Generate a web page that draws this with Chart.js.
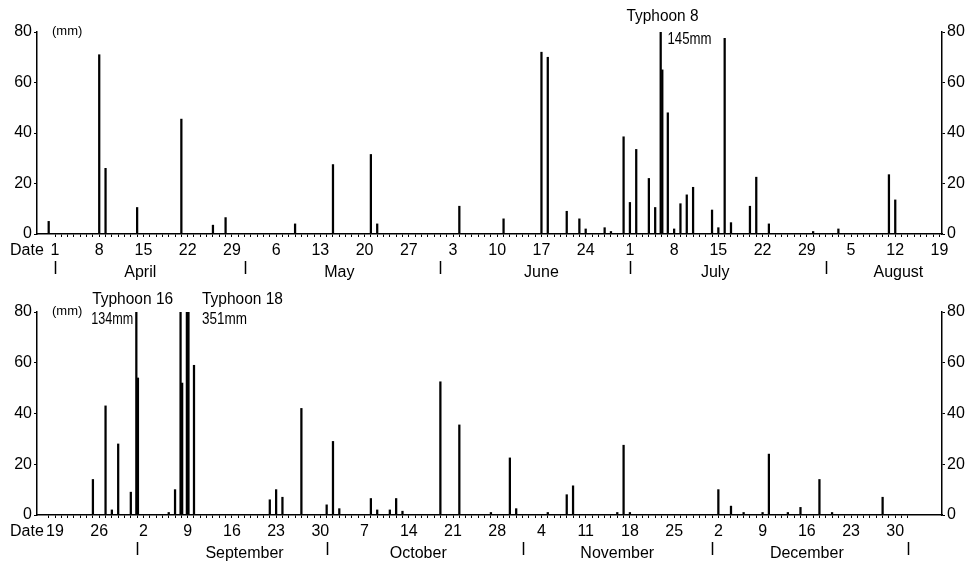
<!DOCTYPE html>
<html lang="en">
<head>
<meta charset="UTF-8">
<title>Daily rainfall</title>
<script src="https://cdn.jsdelivr.net/npm/chart.js@4"></script>
<style>
  html, body { margin: 0; padding: 0; background: #fff; }
  canvas { display: block; }
</style>
</head>
<body>
<canvas id="topPanel" width="970" height="282"></canvas>
<canvas id="bottomPanel" width="970" height="281"></canvas>
<script>
// ---- top panel, day 0 = April 1 ----
const topDays = [-1, 7, 8, 13, 20, 25, 27, 38, 44, 50, 51, 64, 71, 77, 78, 81, 83, 84, 87, 88,
  90, 91, 92, 94, 95, 96, 97, 98, 99, 100, 101, 104, 105, 106, 107, 110, 111, 113, 120, 124, 132, 133];
const topRain = [5, 71, 26, 10.5, 45.5, 3.5, 6.5, 4, 27.5, 31.5, 4, 11, 6, 72, 70, 9, 6, 2, 2.5, 1,
  38.5, 12.5, 33.5, 22, 10.5, 145, 48, 2, 12, 15.5, 18.5, 9.5, 2.5, 77.5, 4.5, 11, 22.5, 4, 1, 2, 23.5, 13.5];
// second reading drawn beside the first on the same day
const topDays2 = [96];
const topRain2 = [65];
const topTickLabels = ["1", "8", "15", "22", "29", "6", "13", "20", "27", "3", "10", "17", "24",
  "1", "8", "15", "22", "29", "5", "12", "19"];
const topMonths = ["April", "May", "June", "July", "August"];
const topMonthLabelDays = [13.5, 45, 77, 104.5, 133.5];
const topMonthStarts = [0, 30, 61, 91, 122];

// ---- bottom panel, day 0 = August 19 ----
const bottomDays = [6, 8, 9, 10, 12, 13, 18, 19, 20, 21, 22, 34, 35, 36, 39, 43, 44, 45, 50, 51,
  53, 54, 55, 61, 64, 69, 72, 73, 78, 81, 82, 89, 90, 91, 105, 107, 109, 112, 113, 116, 118, 121, 123, 131];
const bottomRain = [14, 43, 2, 28, 9, 134, 1, 10, 95, 100, 59, 6, 10, 7, 42, 4, 29, 2.5, 6.5, 2,
  2, 6.5, 1.5, 52.5, 35.5, 1, 22.5, 2.5, 1, 8, 11.5, 1, 27.5, 1, 10, 3.5, 1, 1, 24, 1, 3, 14, 1, 7];
const bottomDays2 = [13, 20, 21];
const bottomRain2 = [54, 52, 95];
const bottomTickLabels = ["19", "26", "2", "9", "16", "23", "30", "7", "14", "21", "28", "4", "11",
  "18", "25", "2", "9", "16", "23", "30"];
const bottomMonths = ["September", "October", "November", "December"];
const bottomMonthLabelDays = [30, 57.5, 89, 119];
const bottomMonthStarts = [13, 43, 74, 104, 135];

const FONT = '"Liberation Sans", Arial, sans-serif';

// one point per day so bars of the same day can be grouped side by side
function fillDays(days, values, first, last) {
  const out = [];
  for (let d = first; d <= last; d++) {
    const i = days.indexOf(d);
    out.push({ x: d, y: i >= 0 ? values[i] : null });
  }
  return out;
}

// "Date", month names, month marks, unit and typhoon notes
const panelText = {
  id: "panelText",
  afterDraw(chart, args, o) {
    const { ctx, chartArea } = chart;
    const xs = chart.scales.x;
    const base = chartArea.bottom;
    ctx.save();
    ctx.fillStyle = "#000";
    ctx.strokeStyle = "#000";
    ctx.lineWidth = 1.5;
    ctx.textBaseline = "middle";
    ctx.font = "16px " + FONT;
    ctx.textAlign = "left";
    ctx.fillText("Date", 10, base + 17);
    ctx.textAlign = "center";
    o.months.forEach((m, i) => ctx.fillText(m, xs.getPixelForValue(o.monthDays[i]), base + 39));
    o.monthStarts.forEach((d) => {
      const px = Math.round(xs.getPixelForValue(d)) + 0.5;
      ctx.beginPath();
      ctx.moveTo(px, base + 27);
      ctx.lineTo(px, base + 40);
      ctx.stroke();
    });
    ctx.textAlign = "left";
    ctx.font = "13px " + FONT;
    ctx.fillText("(mm)", chartArea.left + 15, chartArea.top - 1);
    ctx.font = "16px " + FONT;
    o.notes.forEach((n) => {
      ctx.fillText(n.text, xs.getPixelForValue(n.day) + n.dx, chartArea.top + n.dy, n.w);
    });
    ctx.restore();
  },
};

function makePanel(id, p) {
  const tickMap = new Map(p.tickLabels.map((t, i) => [i * 7, t]));
  const dayTicks = [];
  for (let d = p.tickFrom; d <= p.tickTo; d++) dayTicks.push({ value: d });

  const barStyle = {
    backgroundColor: "#000",
    borderWidth: 0,
    barThickness: 1.6,
    skipNull: true,
    clip: 0,
  };
  const yAxis = (position, width) => ({
    position,
    min: 0,
    max: 80,
    border: { color: "#000", width: 1.5 },
    grid: { drawOnChartArea: false, color: "#000", tickLength: 3 },
    ticks: { stepSize: 20, color: "#000", padding: 2, font: { size: 16, family: FONT } },
    afterFit: (s) => { s.width = width; },
  });

  return new Chart(document.getElementById(id), {
    type: "bar",
    data: {
      datasets: [
        { data: fillDays(p.days, p.rain, -2, 141), ...barStyle },
        { data: fillDays(p.days2, p.rain2, -2, 141), ...barStyle },
      ],
    },
    options: {
      responsive: false,
      animation: false,
      layout: { padding: { top: p.top, left: 0, right: 0, bottom: 0 } },
      plugins: {
        legend: { display: false },
        tooltip: { enabled: false },
        panelText: {
          months: p.months,
          monthDays: p.monthDays,
          monthStarts: p.monthStarts,
          notes: p.notes,
        },
      },
      scales: {
        x: {
          type: "linear",
          min: -2.85,
          max: 140.4,
          offset: false,
          border: { color: "#000", width: 1.5 },
          grid: { offset: false, drawOnChartArea: false, color: "#000", tickLength: 3 },
          afterBuildTicks: (s) => { s.ticks = dayTicks.slice(); },
          ticks: {
            autoSkip: false,
            maxRotation: 0,
            minRotation: 0,
            padding: 4,
            color: "#000",
            font: { size: 16, family: FONT },
            callback: (v) => tickMap.get(v) ?? "",
          },
          afterFit: (s) => { s.height = 48; },
        },
        y: yAxis("left", 37),
        y2: yAxis("right", 28),
      },
    },
    plugins: [panelText],
  });
}

makePanel("topPanel", {
  days: topDays, rain: topRain, days2: topDays2, rain2: topRain2,
  tickLabels: topTickLabels, tickFrom: 0, tickTo: 140,
  months: topMonths, monthDays: topMonthLabelDays, monthStarts: topMonthStarts,
  top: 32,
  notes: [
    { day: 96, dx: -35, dy: -15, text: "Typhoon 8", w: 72 },
    { day: 96, dx: 6, dy: 8, text: "145mm", w: 44 },
  ],
});

makePanel("bottomPanel", {
  days: bottomDays, rain: bottomRain, days2: bottomDays2, rain2: bottomRain2,
  tickLabels: bottomTickLabels, tickFrom: -1, tickTo: 135,
  months: bottomMonths, monthDays: bottomMonthLabelDays, monthStarts: bottomMonthStarts,
  top: 30,
  notes: [
    { day: 13, dx: -45, dy: -12, text: "Typhoon 16", w: 81 },
    { day: 13, dx: -46, dy: 8, text: "134mm", w: 42 },
    { day: 22, dx: 8, dy: -12, text: "Typhoon 18", w: 81 },
    { day: 22, dx: 8, dy: 8, text: "351mm", w: 45 },
  ],
});
</script>
</body>
</html>
